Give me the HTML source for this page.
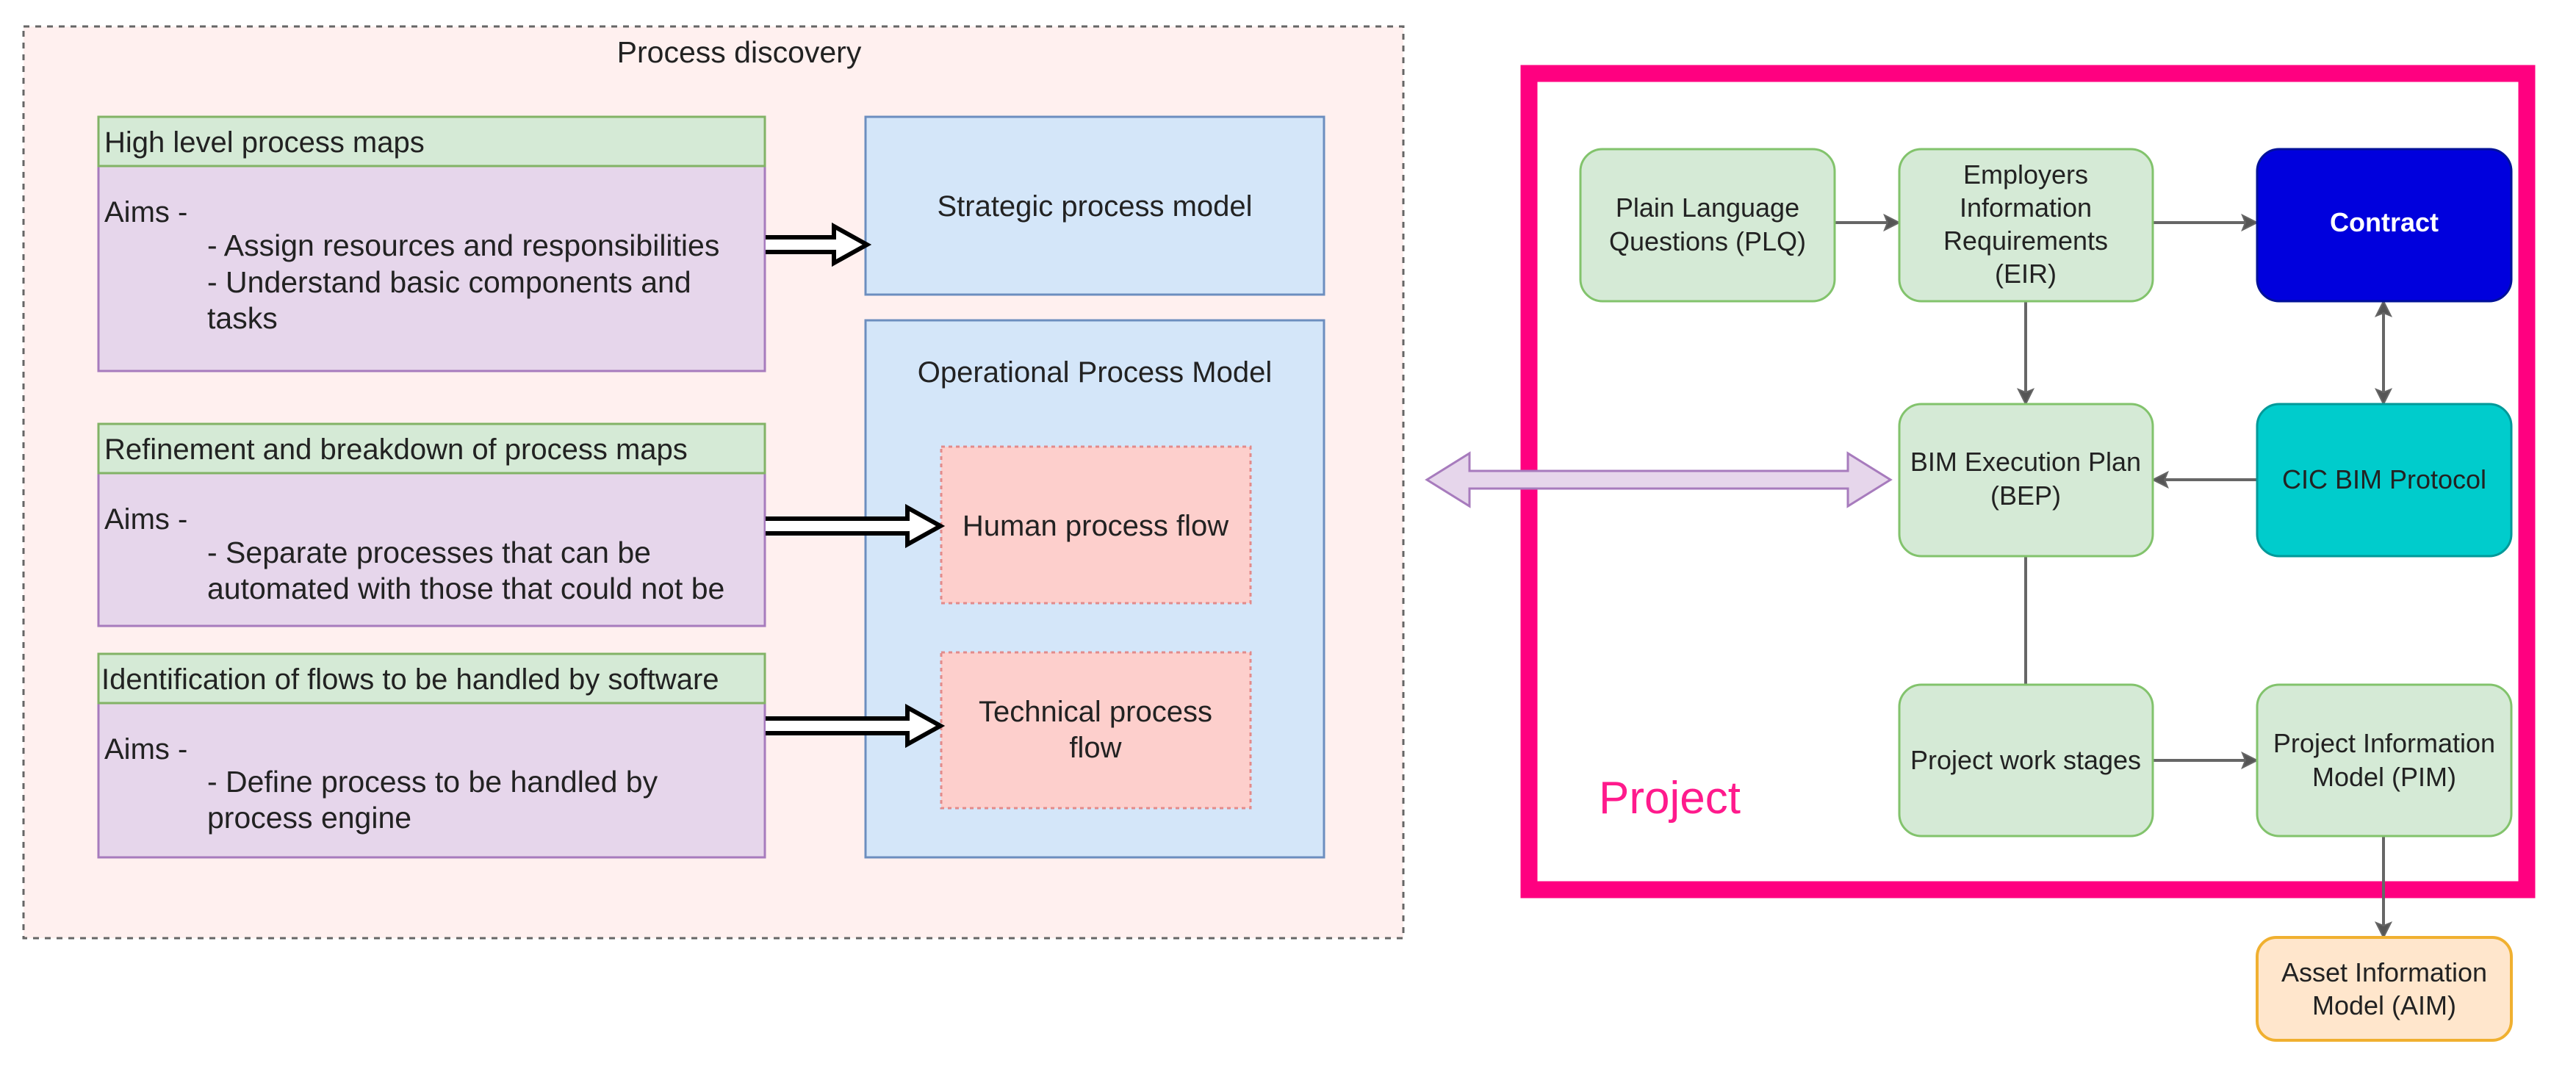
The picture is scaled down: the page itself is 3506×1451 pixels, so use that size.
<!DOCTYPE html>
<html><head><meta charset="utf-8"><style>
html,body{margin:0;padding:0;background:#fff;}
svg{display:block;}
text{font-family:"Liberation Sans",sans-serif;}
</style></head><body>
<svg width="3506" height="1451" viewBox="0 0 3506 1451" xmlns="http://www.w3.org/2000/svg">
<!-- Process discovery container -->
<rect x="32" y="36" width="1878" height="1241" fill="#fff0ef" stroke="#666" stroke-width="3" stroke-dasharray="8,8"/>
<text x="1006" y="85" font-size="41" fill="#222" text-anchor="middle">Process discovery</text>

<g font-size="40" fill="#222">
<!-- Block 1 -->
<rect x="134" y="226" width="907" height="279" fill="#e6d6eb" stroke="#a77bbd" stroke-width="3"/>
<rect x="134" y="159" width="907" height="67" fill="#d5ead6" stroke="#82b366" stroke-width="3"/>
<text x="142" y="207">High level process maps</text>
<text x="142" y="302">Aims -</text>
<g font-size="41">
<text x="282" y="348">- Assign resources and responsibilities</text>
<text x="282" y="398">- Understand basic components and</text>
<text x="282" y="447">tasks</text>
</g>

<!-- Block 2 -->
<rect x="134" y="644" width="907" height="208" fill="#e6d6eb" stroke="#a77bbd" stroke-width="3"/>
<rect x="134" y="577" width="907" height="67" fill="#d5ead6" stroke="#82b366" stroke-width="3"/>
<text x="142" y="625">Refinement and breakdown of process maps</text>
<text x="142" y="720">Aims -</text>
<g font-size="41">
<text x="282" y="766">- Separate processes that can be</text>
<text x="282" y="815">automated with those that could not be</text>
</g>

<!-- Block 3 -->
<rect x="134" y="957" width="907" height="210" fill="#e6d6eb" stroke="#a77bbd" stroke-width="3"/>
<rect x="134" y="890" width="907" height="67" fill="#d5ead6" stroke="#82b366" stroke-width="3"/>
<text x="138" y="938">Identification of flows to be handled by software</text>
<text x="142" y="1033">Aims -</text>
<g font-size="41">
<text x="282" y="1078">- Define process to be handled by</text>
<text x="282" y="1127">process engine</text>
</g>

<!-- Right blue boxes -->
<rect x="1178" y="159" width="624" height="242" fill="#d4e6f9" stroke="#6c8ebf" stroke-width="3"/>
<text x="1490" y="294" text-anchor="middle">Strategic process model</text>
<rect x="1178" y="436" width="624" height="731" fill="#d4e6f9" stroke="#6c8ebf" stroke-width="3"/>
<text x="1490" y="520" text-anchor="middle">Operational Process Model</text>
<rect x="1281" y="608" width="421" height="213" fill="#fdcfcc" stroke="#e28b8b" stroke-width="3" stroke-dasharray="5,5"/>
<text x="1491" y="729" text-anchor="middle">Human process flow</text>
<rect x="1281" y="888" width="421" height="212" fill="#fdcfcc" stroke="#e28b8b" stroke-width="3" stroke-dasharray="5,5"/>
<text x="1491" y="982" text-anchor="middle">Technical process</text>
<text x="1491" y="1031" text-anchor="middle">flow</text>
</g>

<!-- Block arrows -->
<path d="M1042,323 L1135,323 L1135,308 L1180,333 L1135,358 L1135,343 L1042,343" fill="#fff" stroke="#000" stroke-width="6"/>
<path d="M1042,706 L1235,706 L1235,691 L1280,716 L1235,741 L1235,726 L1042,726" fill="#fff" stroke="#000" stroke-width="6"/>
<path d="M1042,978 L1235,978 L1235,963 L1280,988 L1235,1013 L1235,998 L1042,998" fill="#fff" stroke="#000" stroke-width="6"/>

<!-- Project frame -->
<rect x="2081" y="100" width="1358" height="1111" fill="#fff" stroke="#ff0080" stroke-width="23"/>
<text x="2176" y="1107" font-size="62" fill="#ff1a8c">Project</text>

<!-- connectors -->
<g stroke="#666" stroke-width="4" fill="#555">
<line x1="2497" y1="303" x2="2570" y2="303"/>
<path d="M2585,303 L2565,293 L2569,303 L2565,313 Z" stroke-width="2"/>
<line x1="2930" y1="303" x2="3055" y2="303"/>
<path d="M3072,303 L3052,293 L3056,303 L3052,313 Z" stroke-width="2"/>
<line x1="2757" y1="410" x2="2757" y2="535"/>
<path d="M2757,550 L2747,530 L2757,534 L2767,530 Z" stroke-width="2"/>
<line x1="3244" y1="425" x2="3244" y2="535"/>
<path d="M3244,410 L3234,430 L3244,426 L3254,430 Z" stroke-width="2"/>
<path d="M3244,550 L3234,530 L3244,534 L3254,530 Z" stroke-width="2"/>
<line x1="3072" y1="653" x2="2945" y2="653"/>
<path d="M2930,653 L2950,643 L2946,653 L2950,663 Z" stroke-width="2"/>
<line x1="2757" y1="756" x2="2757" y2="932"/>
<line x1="2930" y1="1035" x2="3055" y2="1035"/>
<path d="M3072,1035 L3052,1025 L3056,1035 L3052,1045 Z" stroke-width="2"/>
<line x1="3244" y1="1138" x2="3244" y2="1260"/>
<path d="M3244,1276 L3234,1256 L3244,1260 L3254,1256 Z" stroke-width="2"/>
</g>

<!-- nodes -->
<g stroke-width="3">
<rect x="2151" y="203" width="346" height="207" rx="30" fill="#d5ead6" stroke="#82c36c"/>
<rect x="2585" y="203" width="345" height="207" rx="30" fill="#d5ead6" stroke="#82c36c"/>
<rect x="3072" y="203" width="346" height="207" rx="30" fill="#0000dd" stroke="#001199"/>
<rect x="2585" y="550" width="345" height="207" rx="30" fill="#d5ead6" stroke="#82c36c"/>
<rect x="3072" y="550" width="346" height="207" rx="30" fill="#00cccc" stroke="#009999"/>
<rect x="2585" y="932" width="345" height="206" rx="30" fill="#d5ead6" stroke="#82c36c"/>
<rect x="3072" y="932" width="346" height="206" rx="30" fill="#d5ead6" stroke="#82c36c"/>
<rect x="3072" y="1276" width="346" height="140" rx="26" fill="#ffe6cc" stroke="#f0b030" stroke-width="4"/>
</g>
<g font-size="36" fill="#222" text-anchor="middle">
<text x="2324" y="295">Plain Language</text>
<text x="2324" y="341">Questions (PLQ)</text>
<text x="2757" y="250">Employers</text>
<text x="2757" y="295">Information</text>
<text x="2757" y="340">Requirements</text>
<text x="2757" y="385">(EIR)</text>
<text x="3245" y="315" fill="#fff" font-weight="bold">Contract</text>
<text x="2757" y="641">BIM Execution Plan</text>
<text x="2757" y="687">(BEP)</text>
<text x="3245" y="665">CIC BIM Protocol</text>
<text x="2757" y="1047">Project work stages</text>
<text x="3245" y="1024">Project Information</text>
<text x="3245" y="1070">Model (PIM)</text>
<text x="3245" y="1336">Asset Information</text>
<text x="3245" y="1381">Model (AIM)</text>
</g>

<!-- purple double arrow -->
<path d="M1942,653 L2000,617 L2000,641 L2515,641 L2515,617 L2573,653 L2515,689 L2515,665 L2000,665 L2000,689 Z" fill="#e6d6eb" stroke="#a77bbd" stroke-width="3"/>
</svg>
</body></html>
